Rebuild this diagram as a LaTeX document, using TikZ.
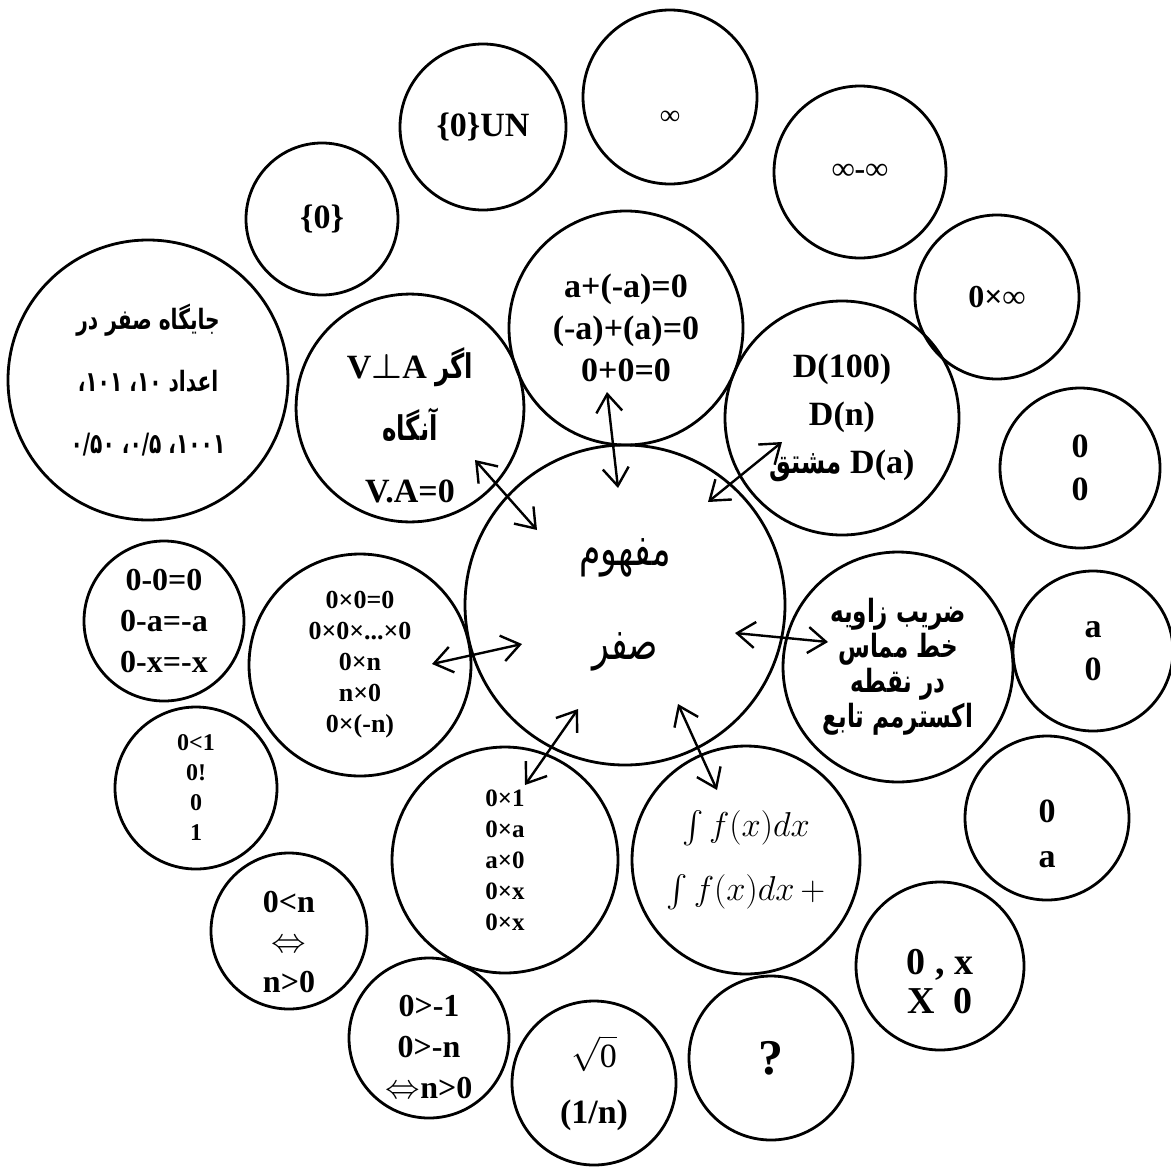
\documentclass[tikz,border=0pt]{standalone}
\usepackage{amsmath,amssymb}
\usepackage{fontspec}
\setmainfont{Liberation Serif}
\newfontfamily\farsi[Script=Arabic,FakeStretch=0.72]{DejaVu Sans}
\TeXXeTstate=1
\usepackage{tikz}
\usetikzlibrary{arrows.meta,positioning}

\tikzset{
	bub/.style={circle,draw,line width=1.4pt,inner sep=0pt,minimum size=#1pt,align=center},
	txt/.style 2 args={font=\bfseries\fontsize{#1}{#2}\selectfont},
	fa/.style 2 args={font=\farsi\bfseries\fontsize{#1}{#2}\selectfont},
	link/.style={<->,>={Straight Barb[length=9pt,width=13pt]},line width=1.2pt}
}

\begin{document}
\begin{tikzpicture}[x=0.5pt,y=-0.5pt]
		
		\useasboundingbox
		(0,0) rectangle (1171,1167);
		
		\node[bub=160,font=\farsi\fontsize{24}{47}\selectfont] (cen)
		at (625,605)
		{\beginR مفهوم\endR\\\beginR صفر\endR};
		
		\node[bub=117,txt={17}{21}] (sum)
		at (626,328)
		{a+(-a)=0\\(-a)+(a)=0\\0+0=0};
		
		\node[bub=87,txt={14}{17}] (inf)
		at (670,97)
		{\\[10pt]∞};
		
		\node[bub=83,txt={17}{21}] (un)
		at (483,127)
		{\{0\}UN};
		
		\node[bub=76,txt={17}{21}] (set)
		at (322,219)
		{\{0\}};
		
		\node[bub=86,txt={16}{21}] (infinf)
		at (860,172)
		{∞-∞};
		
		\node[bub=82,txt={16}{21}] (zinf)
		at (997,297)
		{0×∞};
		
		\node[bub=117,txt={17}{24}] (der)
		at (842,418)
		{D(100)\\D(n)\\{\farsi\beginR مشتق\endR} D(a)};
		
		\node[bub=113,txt={17}{31}] (perp)
		at (410,408)
		{\\[2pt]V$\boldsymbol{\perp}$A {\farsi\beginR اگر\endR}\\{\farsi\beginR آنگاه\endR}\\V.A=0};
		
		\node[bub=140,fa={14}{31}] (place)
		at (148,380)
		{\beginR جایگاه صفر در\endR\\
		\beginR اعداد ۱۰\kern0pt، ۱۰۱\kern0pt،\endR\\
		\beginR ۱۰۰۱\kern0pt، ۰/۵\kern0pt، ۰/۵۰\endR};
		
		\node[bub=80,txt={16}{20.5}] (sub)
		at (164,621)
		{0-0=0\\0-a=-a\\0-x=-x};
		
		\node[bub=111,txt={13}{15.5}] (mul)
		at (360,665)
		{0×0=0\\0×0×...×0\\0×n\\n×0\\0×(-n)};
		
		\node[bub=81,txt={12}{15}] (fac)
		at (196,788)
		{0<1\\0!\\0\\1};
		
		\node[bub=78,txt={16}{20}] (ineq)
		at (289,931)
		{\\[2pt]0<n\\$\Leftrightarrow$\\n>0};
		
		\node[bub=80,txt={16}{20.5}] (neg)
		at (429,1038)
		{\\[-1pt]0>-1\\0>-n\\$\Leftrightarrow$n>0};
		
		\node[bub=82,txt={17}{28}] (root)
		at (594,1083)
		{$\mathrm{\sqrt{0}}$\\(1/n)};
		
		\node[bub=82,txt={25}{28}] (ques)
		at (771,1058)
		{?};
		
		\node[bub=84,txt={19}{19.5}] (zx)
		at (940,966)
		{\\[9pt]0 , x\\X~~0};
		
		\node[bub=82,txt={17}{22.5}] (za)
		at (1047,818)
		{\\[5pt]0\\a};
		
		\node[bub=80,txt={17}{21.5}] (az)
		at (1093,651)
		{a\\0};
		
		\node[bub=80,txt={17}{21.5}] (zz)
		at (1080,468)
		{0\\0};
		
		\node[bub=115,fa={16}{17.5}] (slope)
		at (898,667)
		{\beginR ضریب زاویه\endR\\\beginR خط مماس\endR\\
		\beginR در نقطه\endR\\\beginR اکسترمم تابع\endR};
		
		\node[bub=113,txt={12.5}{15.5}] (one)
		at (505,860)
		{0×1\\0×a\\a×0\\0×x\\0×x};
		
		\node[bub=114,font=\fontsize{16}{32}\selectfont] (intg)
		at (746,860)
		{$\int f(x)dx$\\$\int f(x)dx\,+$};
		
		\coordinate (p1) at (607,392);
		\coordinate (q1) at (618,488);
		\coordinate (p2) at (475,460);
		\coordinate (q2) at (537,530);
		\coordinate (p3) at (782,442);
		\coordinate (q3) at (708,502);
		\coordinate (p4) at (432,664);
		\coordinate (q4) at (522,644);
		\coordinate (p5) at (828,642);
		\coordinate (q5) at (735,633);
		\coordinate (p6) at (525,785);
		\coordinate (q6) at (578,709);
		\coordinate (p7) at (717,790);
		\coordinate (q7) at (678,704);
		
		\draw[link]
		(p1) -- (q1);
		
		\draw[link]
		(p2) -- (q2);
		
		\draw[link]
		(p3) -- (q3);
		
		\draw[link]
		(p4) -- (q4);
		
		\draw[link]
		(p5) -- (q5);
		
		\draw[link]
		(p6) -- (q6);
		
		\draw[link]
		(p7) -- (q7);
		
	\end{tikzpicture}
\end{document}
